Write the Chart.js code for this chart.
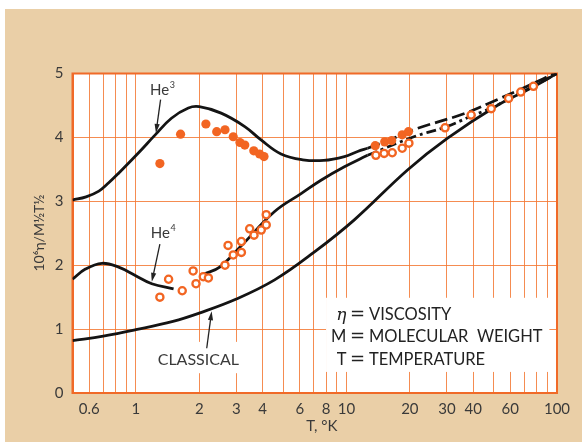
<!DOCTYPE html>
<html>
<head>
<meta charset="utf-8">
<script src="https://cdn.jsdelivr.net/npm/chart.js@4/dist/chart.umd.min.js"></script>
<style>
  html, body { margin: 0; padding: 0; background: #fff; }
  #wrap { width: 582px; height: 442px; position: relative; }
</style>
</head>
<body>
<div id="wrap"><canvas id="c" width="582" height="442"></canvas></div>
<script>
// Log-temperature grid (K) and the temperatures that carry a label
const gridTemps = [0.5,0.6,0.7,0.8,0.9,1,2,3,4,5,6,7,8,9,10,20,30,40,50,60,70,80,90,100];
const labelTemps = [0.6,1,2,3,4,6,8,10,20,30,40,60,100];
const yTicks = [0,1,2,3,4,5];

// He3 theory curve: solid part, then dashed continuation
const he3SolidT = [0.5,0.58,0.667,0.743,0.828,1.03,1.235,1.475,1.775,2.0,2.54,3.29,3.93,4.89,6.2,7.8,9.78,11.3,12.6];
const he3SolidV = [3.02,3.07,3.16,3.29,3.44,3.76,4.04,4.30,4.46,4.48,4.38,4.17,3.96,3.74,3.65,3.64,3.70,3.78,3.83];
const he3DashT = [12.6,16,21.7,36.1,51.9,74.3,100];
const he3DashV = [3.83,3.96,4.14,4.37,4.59,4.82,5.02];

// He4 theory curve: low-temperature branch, main branch, dashed continuation
const he4LowT = [0.5,0.576,0.69,0.828,0.993,1.19,1.51];
const he4LowV = [1.78,1.94,2.03,1.97,1.84,1.71,1.63];
const he4MainT = [2.1,2.5,3.2,4.56,6.09,7.57,9.78,12.6];
const he4MainV = [1.86,1.97,2.32,2.84,3.12,3.33,3.54,3.72];
const he4DashT = [12.6,20.9,29.4,39,48.7,58.9,77,100];
const he4DashV = [3.72,4.01,4.16,4.33,4.46,4.60,4.80,5.0];

// Classical curve
const classicalT = [0.5,0.7,1,1.5,2,3,4.56,7,10.9,19.5,30,52,75,100];
const classicalV = [0.82,0.89,0.99,1.12,1.25,1.47,1.77,2.2,2.71,3.49,3.98,4.50,4.77,5.0];

// Measured He3 (filled dots)
const he3PtsT = [1.30,1.63,2.15,2.42,2.65,2.90,3.12,3.29,3.63,3.87,4.06,13.7,15.2,16.4,18.4,19.7];
const he3PtsV = [3.59,4.05,4.21,4.09,4.12,4.01,3.92,3.88,3.79,3.74,3.70,3.87,3.93,3.95,4.04,4.09];

// Measured He4 (open circles)
const he4PtsT = [1.30,1.43,1.66,1.87,1.93,2.09,2.21,2.65,2.74,2.90,3.17,3.17,3.47,3.64,3.94,4.16,4.16,
                 13.8,15.1,16.5,18.4,19.8,29.4,39.1,48.7,58.9,67.3,77.3];
const he4PtsV = [1.50,1.78,1.60,1.91,1.71,1.82,1.80,2.00,2.31,2.16,2.37,2.20,2.57,2.47,2.55,2.63,2.79,
                 3.72,3.75,3.76,3.83,3.91,4.15,4.35,4.45,4.61,4.71,4.80];

const pairs = (xs, ys) => xs.map((x, i) => ({ x: x, y: ys[i] }));

const ORANGE = '#f26522';
const GRID = 'rgba(243,120,50,0.85)';
const INK = '#141414';
const TEXT = '#3a3a3a';
const FONT = 'Lato, "Open Sans", "DejaVu Sans", sans-serif';

function curve(xs, ys, dash) {
  return {
    data: pairs(xs, ys), showLine: true, pointRadius: 0, pointHoverRadius: 0,
    borderColor: INK, borderWidth: 2.8, tension: 0.4,
    borderDash: dash || [], borderCapStyle: 'butt', fill: false
  };
}

// Background, label boxes, annotations and axis titles
const decor = {
  id: 'decor',
  beforeDraw(chart) {
    const { ctx, chartArea: a } = chart;
    ctx.save();
    ctx.fillStyle = '#ffffff';
    ctx.fillRect(0, 0, chart.width, chart.height);
    ctx.fillStyle = '#eacfa7';
    ctx.fillRect(5, 9, chart.width - 5, chart.height - 9);
    ctx.fillStyle = '#ffffff';
    ctx.fillRect(a.left, a.top, a.right - a.left, a.bottom - a.top);
    ctx.restore();
  },
  beforeDatasetsDraw(chart) {
    const { ctx, chartArea: a, scales: { x, y } } = chart;
    ctx.save();
    ctx.fillStyle = '#ffffff';
    // box behind the definitions
    const bx1 = x.getPixelForValue(8.0), bx2 = x.getPixelForValue(92);
    const by1 = y.getPixelForValue(1.49), by2 = y.getPixelForValue(0.33);
    ctx.fillRect(bx1, by1, bx2 - bx1, by2 - by1);
    // box behind CLASSICAL
    const cx1 = x.getPixelForValue(1.15), cx2 = x.getPixelForValue(3.41);
    const cy1 = y.getPixelForValue(0.80), cy2 = y.getPixelForValue(0.31);
    ctx.fillRect(cx1, cy1, cx2 - cx1, cy2 - cy1);
    // frame
    ctx.strokeStyle = '#f06a28';
    ctx.lineWidth = 2;
    ctx.strokeRect(a.left, a.top, a.right - a.left, a.bottom - a.top);
    ctx.restore();
  },
  afterDatasetsDraw(chart) {
    const { ctx, scales: { x, y } } = chart;
    const P = (t, v) => [x.getPixelForValue(t), y.getPixelForValue(v)];
    ctx.save();

    function arrow(from, to) {
      const [x1, y1] = P(from[0], from[1]);
      const [x2, y2] = P(to[0], to[1]);
      const ang = Math.atan2(y2 - y1, x2 - x1);
      const hl = 9, hw = 2.6;
      ctx.strokeStyle = '#222';
      ctx.lineWidth = 1.3;
      ctx.beginPath();
      ctx.moveTo(x1, y1);
      ctx.lineTo(x2 - Math.cos(ang) * hl * 0.8, y2 - Math.sin(ang) * hl * 0.8);
      ctx.stroke();
      ctx.fillStyle = '#222';
      ctx.beginPath();
      ctx.moveTo(x2, y2);
      ctx.lineTo(x2 - Math.cos(ang) * hl - Math.sin(ang) * hw, y2 - Math.sin(ang) * hl + Math.cos(ang) * hw);
      ctx.lineTo(x2 - Math.cos(ang) * hl + Math.sin(ang) * hw, y2 - Math.sin(ang) * hl - Math.cos(ang) * hw);
      ctx.closePath();
      ctx.fill();
    }

    function heLabel(t, v, sup) {
      const [px, py] = P(t, v);
      ctx.fillStyle = TEXT;
      ctx.textBaseline = 'middle';
      ctx.textAlign = 'left';
      ctx.font = '15px ' + FONT;
      const w = ctx.measureText('He').width;
      const x0 = px - (w + 6) / 2;
      ctx.fillText('He', x0, py);
      ctx.font = '9px ' + FONT;
      ctx.fillText(sup, x0 + w + 0.5, py - 5);
    }

    heLabel(1.34, 4.74, '3');
    arrow([1.31, 4.59], [1.245, 4.07]);
    heLabel(1.35, 2.50, '4');
    arrow([1.30, 2.33], [1.19, 1.74]);

    // CLASSICAL
    ctx.fillStyle = TEXT;
    ctx.font = '16px ' + FONT;
    ctx.textAlign = 'center';
    ctx.textBaseline = 'middle';
    const [clx, cly] = P(1.98, 0.52);
    ctx.fillText('CLASSICAL', clx, cly);
    arrow([2.17, 0.70], [2.29, 1.28]);

    // Definitions
    const rows = [['η', 'VISCOSITY', 1.23], ['M', 'MOLECULAR  WEIGHT', 0.88], ['T', 'TEMPERATURE', 0.52]];
    rows.forEach(([sym, word, v]) => {
      const [sx, sy] = P(10.0, v);
      const [ex] = P(11.3, v);
      const [wx] = P(12.8, v);
      ctx.textBaseline = 'middle';
      ctx.textAlign = 'right';
      ctx.font = sym === 'η' ? 'italic 17px "DejaVu Serif", serif' : '16.5px ' + FONT;
      ctx.fillText(sym, sx, sym === 'η' ? sy + 1 : sy);
      ctx.textAlign = 'center';
      ctx.font = '18px "DejaVu Sans", sans-serif';
      ctx.fillText('=', ex, sy);
      ctx.textAlign = 'left';
      ctx.font = '16.5px ' + FONT;
      ctx.fillText(word, wx, sy);
    });
    ctx.restore();
  },
  afterDraw(chart) {
    const { ctx, chartArea: a } = chart;
    ctx.save();
    ctx.fillStyle = TEXT;
    ctx.textBaseline = 'middle';
    ctx.textAlign = 'center';
    ctx.font = '15px ' + FONT;
    ctx.fillText('T, °K', (a.left + a.right) / 2 + 7, 426);
    ctx.translate(39, 233);
    ctx.rotate(-Math.PI / 2);
    ctx.font = '14px ' + FONT;
    ctx.fillText('10⁶η/M½T½', 0, 0);
    ctx.restore();
  }
};

const fmt = v => (v < 1 ? String(v) : String(Math.round(v)));

new Chart(document.getElementById('c'), {
  type: 'scatter',
  data: {
    datasets: [
      { data: pairs(he3PtsT, he3PtsV), pointRadius: 4.6, pointHoverRadius: 4.6, pointBackgroundColor: ORANGE, pointBorderWidth: 0, borderColor: ORANGE },
      { data: pairs(he4PtsT, he4PtsV), pointRadius: 3.6, pointHoverRadius: 3.6, pointBackgroundColor: '#ffffff', pointBorderColor: ORANGE, pointBorderWidth: 2.3 },
      curve(he3SolidT, he3SolidV),
      curve(he3DashT, he3DashV, [13, 5]),
      curve(he4LowT, he4LowV),
      curve(he4MainT, he4MainV),
      curve(he4DashT, he4DashV, [10, 4, 3, 4]),
      curve(classicalT, classicalV)
    ]
  },
  options: {
    responsive: false,
    animation: false,
    devicePixelRatio: 1,
    layout: { padding: { left: 0, top: 73.5, right: 25, bottom: 0 } },
    plugins: { legend: { display: false }, tooltip: { enabled: false } },
    scales: {
      x: {
        type: 'logarithmic',
        min: 0.5, max: 100,
        afterBuildTicks: s => { s.ticks = gridTemps.map(v => ({ value: v })); },
        afterFit: s => { s.height = 49; },
        grid: { color: GRID, lineWidth: 1, drawTicks: false },
        border: { display: true, color: '#f06a28', width: 2 },
        ticks: {
          autoSkip: false, maxRotation: 0, padding: 7,
          color: TEXT, font: { family: FONT, size: 15 },
          callback: v => (labelTemps.includes(v) ? fmt(v) : '')
        }
      },
      y: {
        type: 'linear',
        min: 0, max: 5,
        afterBuildTicks: s => { s.ticks = yTicks.map(v => ({ value: v })); },
        afterFit: s => { s.width = 72.5; },
        grid: { color: GRID, lineWidth: 1, drawTicks: false },
        border: { display: true, color: '#f06a28', width: 2 },
        ticks: { padding: 9, color: TEXT, font: { family: FONT, size: 15 } }
      }
    }
  },
  plugins: [decor]
});
</script>
</body>
</html>
